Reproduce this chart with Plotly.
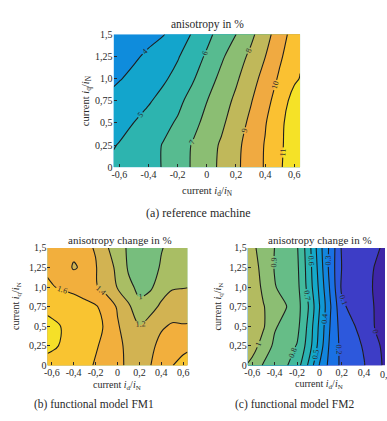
import math
import plotly.graph_objects as go

# Grid of the measured operating points (current ratios)
id_pts = [-0.64, -0.6, -0.5, -0.4, -0.3, -0.2, -0.1, 0.0, 0.1, 0.2, 0.3, 0.4, 0.5, 0.6, 0.64]
iq_pts = [0.0, 0.25, 0.5, 0.75, 1.0, 1.25, 1.5]

# (a) reference machine: anisotropy in %
aniso_ref = [
    [5.17, 5.25, 5.45, 5.7, 6.05, 6.55, 7.08, 7.6, 8.2, 8.8, 9.45, 10.08, 10.85, 11.7, 12.05],
    [4.95, 5.05, 5.3, 5.62, 6.05, 6.52, 7.05, 7.58, 8.12, 8.75, 9.4, 10.06, 10.8, 11.6, 11.92],
    [4.58, 4.7, 5.01, 5.35, 5.72, 6.12, 6.7, 7.28, 7.82, 8.5, 9.2, 9.93, 10.78, 11.5, 11.8],
    [4.25, 4.35, 4.6, 4.9, 5.3, 5.75, 6.35, 6.98, 7.55, 8.2, 8.92, 9.65, 10.5, 11.35, 11.7],
    [3.85, 3.95, 4.2, 4.5, 4.85, 5.3, 5.88, 6.55, 7.25, 7.85, 8.6, 9.35, 10.15, 10.85, 11.03],
    [3.63, 3.7, 3.88, 4.15, 4.5, 4.92, 5.5, 6.14, 6.85, 7.52, 8.2, 8.98, 9.85, 10.6, 10.9],
    [3.34, 3.4, 3.55, 3.75, 3.95, 4.4, 5.07, 5.72, 6.4, 6.99, 7.75, 8.6, 9.55, 10.4, 10.75],
]

# (b) functional model FM1: anisotropy change in %
change_fm1 = [
    [1.72, 1.72, 1.72, 1.7, 1.66, 1.58, 1.51, 1.44, 1.37, 1.36, 1.395, 1.5, 1.595, 1.66, 1.69],
    [1.85, 1.83, 1.78, 1.73, 1.68, 1.62, 1.54, 1.45, 1.35, 1.31, 1.36, 1.45, 1.52, 1.55, 1.56],
    [1.86, 1.84, 1.79, 1.74, 1.7, 1.66, 1.57, 1.42, 1.3, 1.21, 1.3, 1.38, 1.42, 1.41, 1.41],
    [1.75, 1.74, 1.72, 1.69, 1.66, 1.62, 1.52, 1.38, 1.24, 1.04, 1.12, 1.24, 1.31, 1.33, 1.34],
    [1.62, 1.61, 1.58, 1.55, 1.5, 1.42, 1.32, 1.19, 1.04, 0.96, 0.97, 1.1, 1.18, 1.19, 1.195],
    [1.58, 1.56, 1.5, 1.38, 1.44, 1.41, 1.3, 1.15, 0.98, 0.9, 0.92, 1.02, 1.1, 1.12, 1.12],
    [1.53, 1.52, 1.48, 1.45, 1.43, 1.39, 1.22, 1.1, 0.97, 0.9, 0.92, 0.99, 1.05, 1.04, 1.03],
]

# (c) functional model FM2: anisotropy change in %
change_fm2 = [
    [0.99, 0.97, 0.89, 0.85, 0.81, 0.75, 0.59, 0.395, 0.26, 0.18, 0.15, 0.105, 0.03, -0.02, -0.04],
    [1.07, 1.04, 0.96, 0.88, 0.84, 0.795, 0.66, 0.46, 0.27, 0.175, 0.135, 0.09, 0.015, -0.02, -0.035],
    [1.11, 1.08, 1.01, 0.91, 0.87, 0.83, 0.68, 0.48, 0.29, 0.155, 0.11, 0.06, -0.005, -0.03, -0.045],
    [1.11, 1.08, 1.005, 0.95, 0.905, 0.84, 0.705, 0.505, 0.305, 0.12, 0.07, 0.035, -0.005, -0.03, -0.045],
    [1.09, 1.06, 0.98, 0.905, 0.87, 0.83, 0.67, 0.48, 0.28, 0.085, 0.06, 0.03, -0.01, -0.04, -0.05],
    [1.07, 1.04, 0.97, 0.895, 0.86, 0.82, 0.66, 0.46, 0.26, 0.098, 0.07, 0.035, -0.005, -0.03, -0.04],
    [1.04, 1.02, 0.96, 0.899, 0.86, 0.81, 0.65, 0.44, 0.27, 0.09, 0.07, 0.04, 0.015, -0.02, -0.03],
]

x_tickvals = [-0.6, -0.4, -0.2, 0.0, 0.2, 0.4, 0.6]
x_ticktext = ["-0,6", "-0,4", "-0,2", "0", "0,2", "0,4", "0,6"]
y_tickvals = [0.0, 0.25, 0.5, 0.75, 1.0, 1.25, 1.5]
y_ticktext = ["0", "0,25", "0,5", "0,75", "1,0", "1,25", "1,5"]

W, H = 387, 421
SERIF = "Liberation Serif, DejaVu Serif, serif"
INK = "#2a2a2a"

parula_like = [
    (0.00, (62, 38, 168)),
    (0.08, (60, 70, 210)),
    (0.15, (30, 105, 230)),
    (0.25, (15, 140, 220)),
    (0.35, (20, 170, 200)),
    (0.45, (60, 185, 160)),
    (0.55, (120, 190, 125)),
    (0.62, (170, 190, 100)),
    (0.68, (205, 180, 85)),
    (0.74, (240, 170, 65)),
    (0.82, (250, 192, 50)),
    (0.90, (245, 225, 40)),
    (1.00, (249, 251, 14)),
]


def sample(t):
    t = min(max(t, 0.0), 1.0)
    for (t0, c0), (t1, c1) in zip(parula_like[:-1], parula_like[1:]):
        if t <= t1:
            f = 0.0 if t1 == t0 else (t - t0) / (t1 - t0)
            return "rgb(%d,%d,%d)" % tuple(round(a + f * (b - a)) for a, b in zip(c0, c1))
    return "rgb(%d,%d,%d)" % parula_like[-1][1]


def band_scale(start, end, size, zmin, zmax):
    # filled contours colour each band by the scale at the band's middle value;
    # the scale spans [start - size/2, end + size/2], one stop per band
    nc = math.floor((end - start) / size + 1e-9) + 1
    stops = []
    for k in range(nc + 1):
        mid = start - size / 2 + k * size
        stops.append([k / nc, sample((mid - zmin) / (zmax - zmin))])
    return stops


def px_x(p):
    return p / W


def px_y(p):
    return 1 - p / H


def contour(z, xa, ya, zmin, zmax, start, end, size):
    return go.Contour(
        x=id_pts, y=iq_pts, z=z, xaxis=xa, yaxis=ya,
        colorscale=band_scale(start, end, size, zmin, zmax),
        showscale=False, hoverinfo="skip",
        contours=dict(start=start, end=end, size=size, coloring="fill",
                      showlabels=True,
                      labelfont=dict(family=SERIF, size=8, color=INK)),
        line=dict(color="#1e1e1e", width=1.1, smoothing=1.0),
    )


fig = go.Figure()
fig.add_trace(contour(aniso_ref, "x", "y", 0.44, 12.68, 4, 11, 1))
fig.add_trace(contour(change_fm1, "x2", "y2", -0.67, 2.19, 1.0, 1.8, 0.2))
fig.add_trace(contour(change_fm2, "x3", "y3", -0.05, 1.68, 0.0, 1.0, 0.1))

tick_font = dict(family=SERIF, size=10, color=INK)
common_x = dict(showgrid=False, zeroline=False, showline=False, ticks="inside",
                ticklen=3, tickcolor=INK, tickfont=tick_font)
common_y = dict(showgrid=False, zeroline=False, showline=False, ticks="inside",
                ticklen=3, tickcolor=INK, tickfont=tick_font,
                tickvals=y_tickvals, ticktext=y_ticktext, range=[0, 1.5])

# plot areas in pixels: (left, right, top, bottom)
box_a = (112, 301, 29, 166)
box_b = (45, 187, 249, 370)
box_c = (248, 387, 249, 370)
fm2_right = -0.64 + (box_c[1] - box_c[0]) / 113.3

fig.update_layout(
    width=W, height=H, margin=dict(l=0, r=0, t=0, b=0),
    paper_bgcolor="white", plot_bgcolor="white", showlegend=False,
    xaxis=dict(domain=[px_x(box_a[0]), px_x(box_a[1])], anchor="y", range=[-0.64, 0.64],
               tickvals=x_tickvals, ticktext=x_ticktext, **common_x),
    yaxis=dict(domain=[px_y(box_a[3]), px_y(box_a[2])], anchor="x", **common_y),
    xaxis2=dict(domain=[px_x(box_b[0]), px_x(box_b[1])], anchor="y2", range=[-0.64, 0.64],
                tickvals=x_tickvals, ticktext=x_ticktext, **common_x),
    yaxis2=dict(domain=[px_y(box_b[3]), px_y(box_b[2])], anchor="x2", **common_y),
    xaxis3=dict(domain=[px_x(box_c[0]), 1.0], anchor="y3", range=[-0.64, fm2_right],
                tickvals=x_tickvals[:-1], ticktext=x_ticktext[:-1], **common_x),
    yaxis3=dict(domain=[px_y(box_c[3]), px_y(box_c[2])], anchor="x3", **common_y),
)

xlab = "current <i>i</i><sub>d</sub>/<i>i</i><sub>N</sub>"
ylab = "current <i>i</i><sub>q</sub>/<i>i</i><sub>N</sub>"


def note(text, x, y, size, angle=0, xanchor="center"):
    fig.add_annotation(text=text, x=px_x(x), y=px_y(y), xref="paper", yref="paper",
                       showarrow=False, textangle=angle, xanchor=xanchor, yanchor="middle",
                       font=dict(family=SERIF, size=size, color=INK))


# (a)
note("anisotropy in %", 207, 19, 11.5)
note(xlab, 207, 191, 10.5)
note(ylab, 84, 97, 10.5, angle=-90)
note("(a) reference machine", 198, 213, 12)
# (b)
note("anisotropy change in %", 119, 241, 11)
note(xlab, 115, 391, 10)
note(ylab, 13, 309, 10, angle=-90)
note("(b) functional model FM1", 92, 410, 11.5)
# (c)
note("anisotropy change in %", 321, 241, 11)
note(xlab, 320, 390, 10)
note(ylab, 218, 309, 10, angle=-90)
note("(c) functional model FM2", 233, 410, 11.5, xanchor="left")
# last id tick label of (c) sits on the page edge
note(x_ticktext[-1], box_c[0] + (x_tickvals[-1] + 0.64) * 113.3, 379, 10)

fig.write_html("out.html")
